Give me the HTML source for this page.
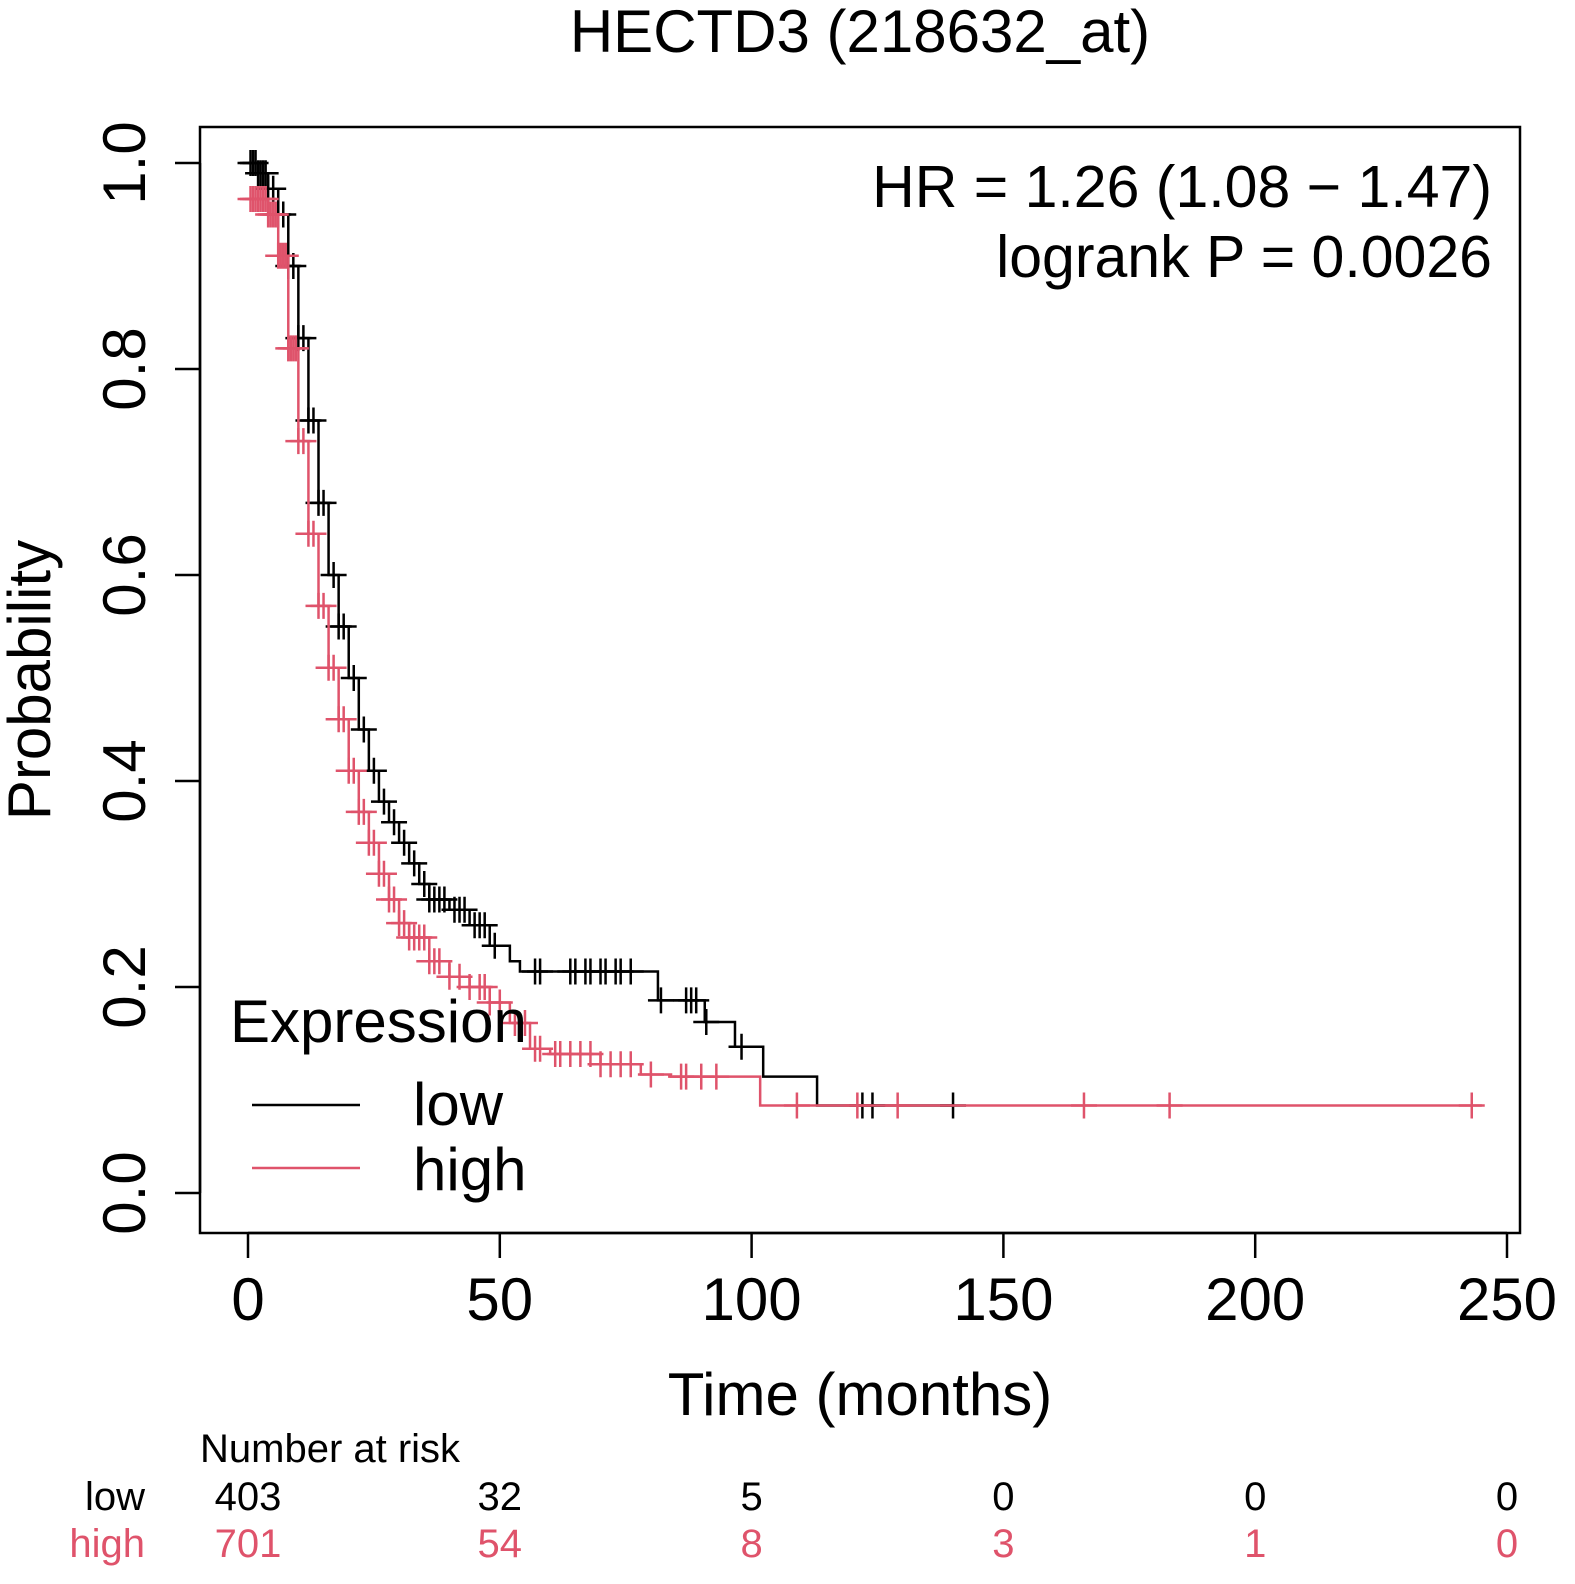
<!DOCTYPE html>
<html><head><meta charset="utf-8"><style>
body{margin:0;background:#fff}
svg{display:block;font-family:"Liberation Sans",Arial,sans-serif}
</style></head><body>
<svg id="chart" width="1575" height="1584" viewBox="0 0 1575 1584" xmlns="http://www.w3.org/2000/svg">
<text x="860" y="52" font-size="60" text-anchor="middle">HECTD3 (218632_at)</text>
<rect x="200" y="127" width="1320" height="1106" fill="none" stroke="#000" stroke-width="2.5"/>
<g id="axes"></g>
<g id="series"></g>
<text x="1492" y="207" font-size="59" text-anchor="end">HR = 1.26 (1.08 − 1.47)</text>
<text x="1492" y="277" font-size="59" text-anchor="end">logrank P = 0.0026</text>
<text x="860" y="1415" font-size="60" text-anchor="middle">Time (months)</text>
<text transform="translate(50,680) rotate(-90)" font-size="60" text-anchor="middle">Probability</text>
<g>
<text x="230" y="1042" font-size="60">Expression</text>
<line x1="252" y1="1105" x2="360" y2="1105" stroke="#000" stroke-width="2.5"/>
<text x="413" y="1125" font-size="60">low</text>
<line x1="252" y1="1168" x2="360" y2="1168" stroke="#DF536B" stroke-width="2.5"/>
<text x="413" y="1190" font-size="60">high</text>
</g>
<text x="200" y="1462" font-size="40">Number at risk</text>
<text x="145" y="1510" font-size="40" text-anchor="end">low</text>
<text x="145" y="1557" font-size="40" text-anchor="end" fill="#DF536B">high</text>
<g id="risk"></g>
</svg>
<script>
const xTicks=[0,50,100,150,200,250];
const yTicks=[0,0.2,0.4,0.6,0.8,1.0];
const yTickLabels=["0.0","0.2","0.4","0.6","0.8","1.0"];
const lowTimes=[0,2,4,6,8,10,12,14,16,18,20,22,24,26,28,30,32,34,36,40,44,48,52,54,81.4,90.7,96.7,102.3,113,140];
const lowSurv=[1.0,0.99,0.975,0.95,0.9,0.83,0.75,0.67,0.6,0.55,0.5,0.45,0.41,0.38,0.36,0.34,0.32,0.3,0.285,0.275,0.26,0.24,0.225,0.215,0.187,0.166,0.142,0.113,0.085,0.085];
const highTimes=[0,4,6,8,10,12,14,16,18,20,22,24,26,28,30,32,36,40,44,48,52,56,60,70,78,84,101.7,245];
const highSurv=[0.965,0.95,0.91,0.82,0.73,0.64,0.57,0.51,0.46,0.41,0.37,0.34,0.31,0.285,0.262,0.248,0.225,0.21,0.2,0.185,0.165,0.14,0.135,0.125,0.115,0.113,0.085,0.085];
const lowCensor=[0.5,1,1.5,2,2.5,3,3.5,4,5,6,7,8,9,10,11,12,13,14,15,17,18,19,21,23,25,27,29,31,33,35,36,37,38,39,41,42,43,45,46,47,49,57,58,64,65,67,68,70,71,73,74,76,82,87,88,89,91,98,122,124,140];
const highCensor=[0.5,1,1.5,2,2.5,3,3.5,4,4.5,5,5.5,6,6.5,7,7.5,8,8.5,9,9.5,10,11,12,13,14,15,16,17,18,19,20,21,22,23,24,25,26,27,28,29,30,31,32,33,34,35,36,37,38,40,42,44,46,47,48,50,53,55,57,58,61,62,64,66,68,70,72,74,76,80,86,87,90,93,109,121,129,166,183,243];
const riskLow=["403","32","5","0","0","0"];
const riskHigh=["701","54","8","3","1","0"];
const NS="http://www.w3.org/2000/svg";
const X=t=>248+t*(1507-248)/250;
const Y=s=>1193-s*1030;
function mk(tag,attrs,parent){const e=document.createElementNS(NS,tag);for(const k in attrs)e.setAttribute(k,attrs[k]);parent.appendChild(e);return e;}
const axes=document.getElementById('axes');
mk('line',{x1:X(0),y1:1233,x2:X(250),y2:1233,stroke:'#000','stroke-width':2.5},axes);
xTicks.forEach((t,i)=>{
 const l=mk('line',{x1:X(t),y1:1233,x2:X(t),y2:1258,stroke:'#000','stroke-width':2.5},axes);
 
 
 const tx=mk('text',{x:X(t),y:1320,'font-size':60,'text-anchor':'middle'},axes);tx.textContent=t;
 
 
});
mk('line',{x1:200,y1:Y(0),x2:200,y2:Y(1),stroke:'#000','stroke-width':2.5},axes);
yTicks.forEach((v,i)=>{
 const l=mk('line',{x1:175,y1:Y(v),x2:200,y2:Y(v),stroke:'#000','stroke-width':2.5},axes);
 
 
 const tx=mk('text',{transform:`translate(145,${Y(v)}) rotate(-90)`,'font-size':60,'text-anchor':'middle'},axes);tx.textContent=yTickLabels[i];
 
 
});
function survAt(times,surv,t){let s=surv[0];for(let i=0;i<times.length;i++){if(times[i]<=t)s=surv[i];}return s;}
const ser=document.getElementById('series');
function drawCurve(times,surv,cens,color,name){
 let d=`M${X(times[0])},${Y(surv[0])}`;
 for(let i=1;i<times.length;i++){d+=` H${X(times[i])} V${Y(surv[i])}`;}
 const p=mk('path',{d:d,fill:'none',stroke:color,'stroke-width':2.5},ser);
 
 
 cens.forEach(t=>{
  const x=X(t),y=Y(survAt(times,surv,t));
  const c=mk('path',{d:`M${x-13},${y} H${x+13} M${x},${y-13} V${y+13}`,stroke:color,'stroke-width':2.5},ser);
  
  
 });
}
drawCurve(lowTimes,lowSurv,lowCensor,'#000','low');
drawCurve(highTimes,highSurv,highCensor,'#DF536B','high');
const risk=document.getElementById('risk');
xTicks.forEach((t,i)=>{
 const a=mk('text',{x:X(t),y:1510,'font-size':40,'text-anchor':'middle'},risk);a.textContent=riskLow[i];
 
 
 const b=mk('text',{x:X(t),y:1557,'font-size':40,'text-anchor':'middle',fill:'#DF536B'},risk);b.textContent=riskHigh[i];
 
 
});
</script>
</body></html>
